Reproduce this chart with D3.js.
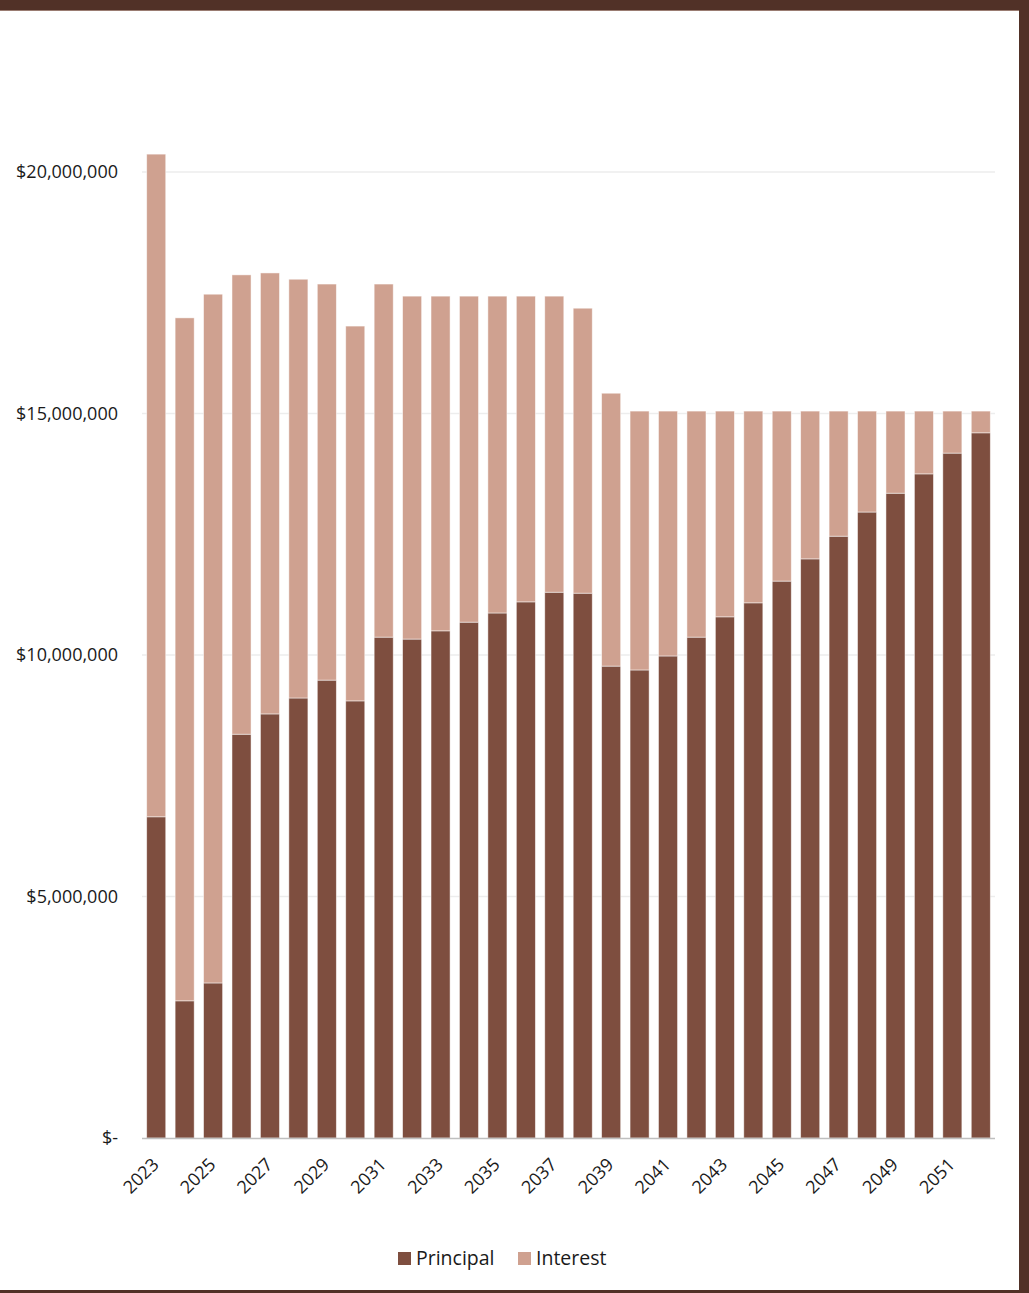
<!DOCTYPE html>
<html><head><meta charset="utf-8">
<script src="https://cdn.jsdelivr.net/npm/d3@7"></script>
<style>html,body{margin:0;padding:0;background:#fff;}svg{display:block;}</style>
</head><body>
<script>
const years = d3.range(2023, 2053).map(String);
const principal = [6.65,2.84,3.21,8.36,8.78,9.11,9.48,9.05,10.37,10.33,10.50,10.68,10.87,11.10,11.30,11.28,9.77,9.69,9.98,10.37,10.79,11.08,11.53,11.99,12.46,12.96,13.35,13.75,14.18,14.60].map(v=>v*1e6);
const totals = [20.37,16.98,17.47,17.87,17.91,17.78,17.68,16.81,17.68,17.43,17.43,17.43,17.43,17.43,17.43,17.18,15.42,15.05,15.05,15.05,15.05,15.05,15.05,15.05,15.05,15.05,15.05,15.05,15.05,15.05].map(v=>v*1e6);
const interest = totals.map((t,i)=>t-principal[i]);
const yTicks = [0,5e6,10e6,15e6,20e6];
const seriesNames = ["Principal","Interest"];
const colors = ["#7E4E3F","#CFA190"];

const W=1029,H=1293;
const svg=d3.select("body").append("svg").attr("width",W).attr("height",H);
svg.append("rect").attr("x",0).attr("y",0).attr("width",W).attr("height",H).attr("fill","#fff");
svg.append("rect").attr("x",0).attr("y",0).attr("width",W).attr("height",10).attr("fill","#513127");
svg.append("rect").attr("x",1019).attr("y",0).attr("width",10).attr("height",H).attr("fill","#513127");
svg.append("rect").attr("x",0).attr("y",1290).attr("width",W).attr("height",3).attr("fill","#513127");
svg.append("rect").attr("x",0).attr("y",10).attr("width",1019).attr("height",1).attr("fill","#9a7c72");

const x=d3.scaleBand().domain(years).range([142,995]).paddingInner(0.33).paddingOuter(0.165);
const y=d3.scaleLinear().domain([0,20e6]).range([1138,172]);

svg.append("g").selectAll("line").data(yTicks.slice(1)).join("line")
 .attr("x1",142).attr("x2",995).attr("y1",d=>y(d)).attr("y2",d=>y(d))
 .attr("stroke","#EDEDED").attr("stroke-width",1.5);

const fmt=d=> d===0?"$-":"$"+d3.format(",")(d);
const font="'Open Sans', 'Noto Sans', sans-serif";
const yAxis=svg.append("g").attr("transform","translate(142,0)")
 .call(d3.axisLeft(y).tickValues(yTicks).tickFormat(fmt).tickSize(0).tickPadding(24));
yAxis.select(".domain").remove();
yAxis.selectAll("text").attr("font-family",font).attr("font-size",18).attr("fill","#1a1a1a");

const stack=d3.stack().keys([0,1]).value((d,k)=>d[k]);
const rows=years.map((yr,i)=>({year:yr,0:principal[i],1:interest[i]}));
const layers=stack(rows);
svg.append("g").selectAll("g").data(layers).join("g").attr("fill",(d,i)=>colors[i])
 .selectAll("rect").data(d=>d).join("rect")
 .attr("x",d=>x(d.data.year)).attr("width",x.bandwidth())
 .attr("y",d=>y(d[1])).attr("height",d=>y(d[0])-y(d[1]))
 .attr("stroke","#fff").attr("stroke-width",0.8).attr("stroke-opacity",0.6);

const xAxis=svg.append("g").attr("transform","translate(0,1138)")
 .call(d3.axisBottom(x).tickValues(years.filter((d,i)=>i%2===0)).tickSize(0).tickPadding(6));
xAxis.select(".domain").attr("stroke","#BFBFBF").attr("stroke-width",1.5).attr("d","M142,0.5H995");
xAxis.selectAll("text").attr("font-family",font).attr("font-size",18).attr("fill","#1a1a1a")
 .attr("text-anchor","end").attr("dy","0.35em")
 .attr("transform","translate(-5,19) rotate(-45)");

const lg=svg.append("g");
const items=[{n:seriesNames[0],c:colors[0],x:398},{n:seriesNames[1],c:colors[1],x:518}];
items.forEach(it=>{
 lg.append("rect").attr("x",it.x).attr("y",1252).attr("width",13).attr("height",13).attr("fill",it.c);
 lg.append("text").attr("x",it.x+18).attr("y",1265).attr("font-family",font).attr("font-size",19.5).attr("fill","#1a1a1a").text(it.n);
});
</script>
</body></html>
